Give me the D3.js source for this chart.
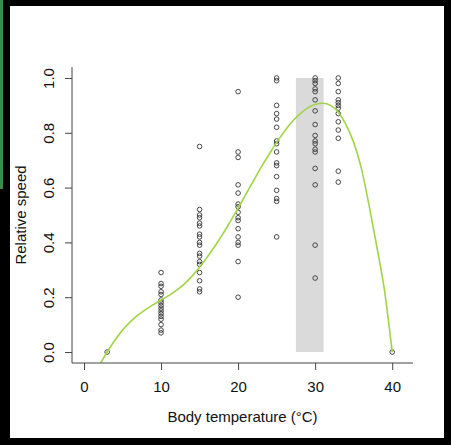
<!DOCTYPE html>
<html>
<head>
<meta charset="utf-8">
<script src="https://cdn.jsdelivr.net/npm/d3@7/dist/d3.min.js"></script>
<style>
html,body{margin:0;padding:0;background:#000;}
svg{display:block;}
text{font-family:"Liberation Sans",Arial,sans-serif;fill:#111;}
</style>
</head>
<body>
<script>
// ---- data ----
const temps = [3, 10, 15, 20, 25, 30, 33, 40];
const speeds = [
  [0.0],
  [0.29, 0.25, 0.24, 0.22, 0.21, 0.19, 0.18, 0.17, 0.16, 0.15, 0.14, 0.13, 0.12, 0.10, 0.08, 0.07],
  [0.75, 0.52, 0.50, 0.49, 0.47, 0.46, 0.43, 0.42, 0.40, 0.39, 0.36, 0.35, 0.33, 0.32, 0.29, 0.26, 0.23, 0.22],
  [0.95, 0.73, 0.71, 0.61, 0.58, 0.54, 0.53, 0.51, 0.49, 0.48, 0.45, 0.42, 0.40, 0.39, 0.33, 0.20],
  [1.0, 0.99, 0.90, 0.87, 0.85, 0.82, 0.77, 0.76, 0.73, 0.69, 0.68, 0.64, 0.59, 0.56, 0.55, 0.42],
  [1.0, 0.99, 0.98, 0.96, 0.95, 0.92, 0.88, 0.83, 0.79, 0.77, 0.76, 0.74, 0.73, 0.67, 0.61, 0.39, 0.27],
  [1.0, 0.98, 0.95, 0.92, 0.91, 0.90, 0.89, 0.87, 0.84, 0.81, 0.78, 0.66, 0.62],
  [0.0]
];
const curveT = [2.17, 3, 4, 5, 6, 7, 8, 9, 10, 11, 12, 13, 14, 15, 16, 17, 18, 19, 20, 21, 22, 23, 24, 25, 26, 27, 28, 29, 30, 31, 32, 33, 34, 35, 36, 37, 38, 39, 40];
const curveV = [-0.04, 0.0, 0.043, 0.08, 0.11, 0.135, 0.155, 0.173, 0.19, 0.206, 0.225, 0.248, 0.276, 0.31, 0.347, 0.387, 0.43, 0.477, 0.525, 0.575, 0.625, 0.675, 0.72, 0.765, 0.805, 0.84, 0.868, 0.89, 0.903, 0.908, 0.9, 0.875, 0.83, 0.765, 0.67, 0.535, 0.385, 0.225, 0.0];
const bandRange = [27.5, 31.1];
const bandSpeed = [0, 1];
const xTicks = [0, 10, 20, 30, 40];
const yTicks = [0.0, 0.2, 0.4, 0.6, 0.8, 1.0];
const xTitle = "Body temperature (\u00B0C)";
const yTitle = "Relative speed";

// ---- drawing ----
const W = 451, H = 445;
const svg = d3.select("body").append("svg").attr("width", W).attr("height", H);

svg.append("rect").attr("x", 0).attr("y", 0).attr("width", W).attr("height", H).attr("fill", "#000");
svg.append("rect").attr("x", 0).attr("y", 0).attr("width", 3).attr("height", 189).attr("fill", "#3b8c4a");
svg.append("rect").attr("x", 10).attr("y", 6).attr("width", 434).attr("height", 432).attr("fill", "#fff");

const x = d3.scaleLinear().domain([-1.56, 42.7]).range([72, 413]);
const y = d3.scaleLinear().domain([-0.04, 1.04]).range([363, 67]);

svg.append("clipPath").attr("id", "plotclip").append("rect")
  .attr("x", x.range()[0]).attr("y", y.range()[1])
  .attr("width", x.range()[1] - x.range()[0]).attr("height", y.range()[0] - y.range()[1]);

// band
svg.append("rect")
  .attr("x", x(bandRange[0])).attr("width", x(bandRange[1]) - x(bandRange[0]))
  .attr("y", y(bandSpeed[1])).attr("height", y(bandSpeed[0]) - y(bandSpeed[1]))
  .attr("fill", "#dadada");

// points
const pts = [];
temps.forEach((t, i) => speeds[i].forEach(v => pts.push([t, v])));
svg.append("g").selectAll("circle").data(pts).join("circle")
  .attr("cx", d => x(d[0])).attr("cy", d => y(d[1])).attr("r", 2.3)
  .attr("fill", "none").attr("stroke", "#333").attr("stroke-width", 0.9);

// curve
const line = d3.line().x(d => x(d[0])).y(d => y(d[1])).curve(d3.curveMonotoneX);
svg.append("path").datum(curveT.map((t, i) => [t, curveV[i]]))
  .attr("d", line).attr("fill", "none").attr("stroke", "#a2d447").attr("stroke-width", 1.6)
  .attr("clip-path", "url(#plotclip)");

// axes (L box)
const axisColor = "#444";
svg.append("line").attr("x1", x.range()[0]).attr("x2", x.range()[0]).attr("y1", y.range()[1]).attr("y2", y.range()[0])
  .attr("stroke", axisColor).attr("stroke-width", 1);
svg.append("line").attr("x1", x.range()[0]).attr("x2", x.range()[1]).attr("y1", y.range()[0]).attr("y2", y.range()[0])
  .attr("stroke", axisColor).attr("stroke-width", 1);

const xAxis = d3.axisBottom(x).tickValues(xTicks).tickSize(7).tickPadding(11).tickFormat(d3.format("d"));
const gx = svg.append("g").attr("transform", `translate(0,${y.range()[0]})`).call(xAxis);
gx.select(".domain").remove();
gx.selectAll("line").attr("stroke", axisColor);
gx.selectAll("text").attr("font-size", 15).attr("fill", "#111")
  .attr("font-family", "Liberation Sans, Arial, sans-serif");

const yAxis = d3.axisLeft(y).tickValues(yTicks).tickSize(7).tickFormat(d3.format(".1f"));
const gy = svg.append("g").attr("transform", `translate(${x.range()[0]},0)`).call(yAxis);
gy.select(".domain").remove();
gy.selectAll("line").attr("stroke", axisColor);
gy.selectAll("text")
  .attr("font-size", 15).attr("fill", "#111").attr("font-family", "Liberation Sans, Arial, sans-serif")
  .attr("x", null).attr("dy", null)
  .attr("text-anchor", "middle")
  .attr("transform", "translate(-24,0) rotate(-90)")
  .attr("dominant-baseline", "central");

svg.append("text").attr("x", (x.range()[0] + x.range()[1]) / 2).attr("y", 422)
  .attr("text-anchor", "middle").attr("font-size", 15).text(xTitle);
svg.append("text").attr("transform", `translate(20,${(y.range()[0] + y.range()[1]) / 2}) rotate(-90)`)
  .attr("text-anchor", "middle").attr("dominant-baseline", "central").attr("font-size", 15).text(yTitle);
</script>
</body>
</html>
